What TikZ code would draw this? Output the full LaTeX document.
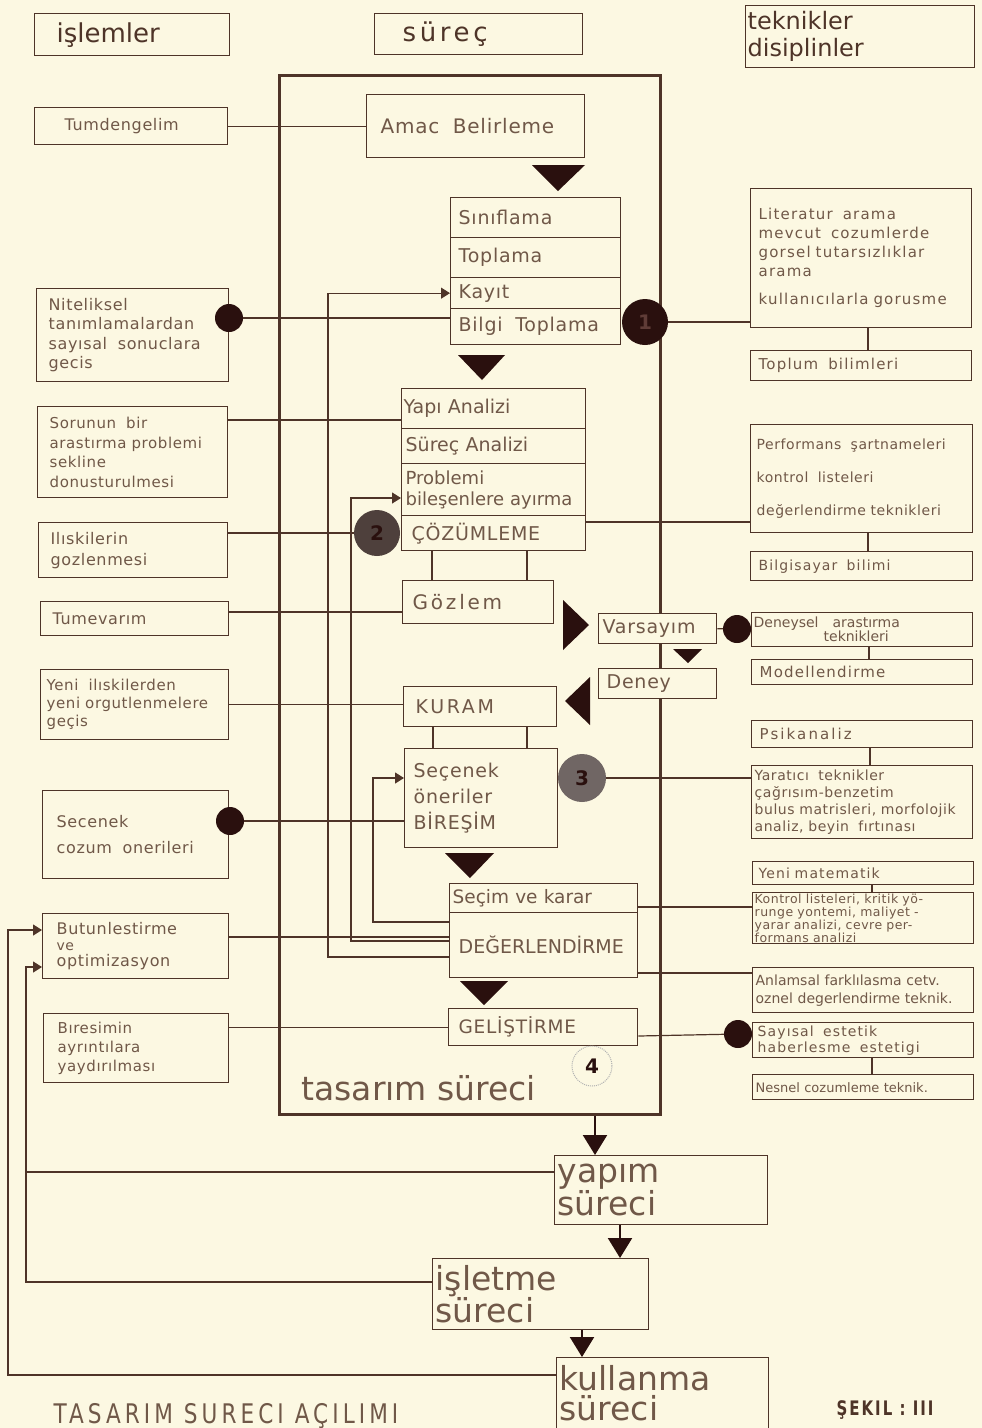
\documentclass[tikz,border=0pt]{standalone}
\usepackage{fontspec}
\setmainfont{DejaVu Sans}
\newfontfamily\fsq[LetterSpace=4]{DejaVu Sans}
\newfontfamily\fsp[LetterSpace=8]{DejaVu Sans}
\newfontfamily\fsw[LetterSpace=14]{DejaVu Sans}
\newfontfamily\fcn[FakeStretch=0.88]{DejaVu Sans}
\newfontfamily\fcap[FakeStretch=0.8,LetterSpace=15]{DejaVu Sans}
\newfontfamily\fsk[FakeStretch=0.75,LetterSpace=10]{DejaVu Sans}
\usetikzlibrary{arrows.meta}
\definecolor{bgc}{RGB}{252,248,226}
\definecolor{lc}{RGB}{78,52,40}
\definecolor{tc}{RGB}{112,88,72}
\definecolor{dk}{RGB}{42,16,14}
\definecolor{d1t}{RGB}{95,60,55}
\definecolor{d2c}{RGB}{78,64,60}
\definecolor{d3c}{RGB}{112,102,100}
\newcommand\myfs[2]{\fontsize{#1}{#2}\selectfont}
\tikzset{
  wh/.code n args={3}{\pgfmathsetmacro\tw{#1-2*#3}%
    \edef\tmp{\noexpand\pgfkeysalso{minimum width=#1pt, minimum height=#2pt, inner xsep=#3pt, text width=\tw pt}}\tmp},
  bx/.style={draw=lc, line width=1.3pt, fill=bgc, text=tc, align=left, inner ysep=1pt, anchor=north west, font=\myfs{16}{20}},
  cn/.style={draw=lc, line width=1.2pt},
  fb/.style={cn, -{Triangle[length=9pt,width=11pt]}},
  flow/.style={draw=dk, line width=2.2pt, -{Triangle[length=20pt,width=24pt]}},
  dot/.style={circle, fill=dk, inner sep=0pt, minimum size=28pt},
  bdot/.style={circle, inner sep=0pt, minimum size=46pt, font=\bfseries\myfs{20}{20}},
}
\begin{document}
\begin{tikzpicture}[x=1pt,y=-1pt]
\path[use as bounding box, fill=bgc] (0,0) rectangle (982,1428);

% big process frame
\node[draw=lc, line width=3pt, anchor=north west, minimum width=381pt, minimum height=1039pt, inner sep=0pt] (tas) at (278,74) {};
\node[anchor=base west, text=tc, font=\myfs{33}{36}] (tasl) at (298,1100) {tasarım süreci};

% headers
\node[bx, wh={195}{42}{22}, text=lc, font=\myfs{26}{30}] (isl) at (34,13) {işlemler};
\node[bx, wh={208}{41}{28}, text=lc, font={\fsw\myfs{26}{30}}] (sur) at (374,13) {süreç};
\node[bx, wh={229}{62}{2}, text=lc, font=\myfs{24}{27}] (tek) at (745,5) {teknikler\\disiplinler};

% middle column
\node[bx, wh={218}{63}{14}, font={\fsq\myfs{20}{24}}] (amac) at (366,94) {Amac\ \ Belirleme};
\node[bx, wh={170}{40}{8}, font={\fsq\myfs{19}{22}}] (sin) at (450,197) {Sınıflama};
\node[bx, wh={170}{40}{8}, font={\fsq\myfs{19}{22}}] (topl) at (450,237) {Toplama};
\node[bx, wh={170}{31}{8}, font={\fsq\myfs{19}{22}}] (kay) at (450,277) {Kayıt};
\node[bx, wh={170}{36}{8}, font={\fsq\myfs{19}{22}}] (bil) at (450,308) {Bilgi\ \ Toplama};

\node[bx, wh={184}{40}{2}, font=\myfs{19}{22}] (yapi) at (401,388) {Yapı Analizi};
\node[bx, wh={184}{35}{4}, font=\myfs{19}{22}] (srca) at (401,428) {Süreç Analizi};
\node[bx, wh={184}{52}{4}, font=\myfs{18}{21}] (prob) at (401,463) {Problemi\\bileşenlere ayırma};
\node[bx, wh={184}{35}{10}, font={\fsq\myfs{19}{22}}] (coz) at (401,515) {ÇÖZÜMLEME};

\node[bx, wh={151}{43}{10}, font={\fsw\myfs{20}{24}}] (goz) at (402,580) {Gözlem};
\node[bx, wh={118}{30}{4}, font={\fsq\myfs{19}{22}}] (vars) at (598,613) {Varsayım};
\node[bx, wh={118}{30}{8}, font={\fsq\myfs{19}{22}}] (den) at (598,668) {Deney};
\node[bx, wh={153}{40}{12}, font={\fsw\myfs{19}{22}}] (kur) at (403,686) {KURAM};
\node[bx, wh={153}{99}{9}, font={\fsq\myfs{19}{26}}] (bir) at (404,748) {Seçenek\\öneriler\\BİREŞİM};
\node[bx, wh={188}{29}{3}, font=\myfs{18.5}{21}] (sec) at (449,883) {Seçim ve karar};
\node[bx, wh={188}{65}{9}, font=\myfs{19}{22}] (deg) at (449,912) {DEĞERLENDİRME};
\node[bx, wh={189}{37}{10}, font={\fsq\myfs{18.5}{21}}] (gel) at (448,1008) {GELİŞTİRME};

% lower process chain
\node[bx, wh={213}{69}{3}, font=\myfs{33}{30}] (yap) at (554,1155) {yapım\\süreci};
\node[bx, wh={216}{71}{3}, font=\myfs{33}{30}] (isl2) at (432,1258) {işletme\\süreci};
\node[bx, wh={212}{71}{3}, font=\myfs{33}{30}] (kul) at (556,1357) {kullanma\\süreci};

% left column
\node[bx, wh={193}{37}{30}, font={\fsq\myfs{16}{20}}] (tum) at (34,107) {Tumdengelim};
\node[bx, wh={192}{93}{12}, font={\fsq\myfs{16}{19.5}}] (nit) at (36,288) {Niteliksel\\tanımlamalardan\\sayısal\ \ sonuclara\\gecis};
\node[bx, wh={190}{91}{12}, font={\fsq\myfs{15}{19.5}}] (sor) at (37,406) {Sorunun\ \ bir\\arastırma problemi\\sekline\\donusturulmesi};
\node[bx, wh={189}{55}{12}, font={\fsq\myfs{16}{21}}] (ili) at (38,522) {Ilıskilerin\\gozlenmesi};
\node[bx, wh={188}{34}{12}, font={\fsq\myfs{16}{20}}] (tmv) at (40,601) {Tumevarım};
\node[bx, wh={188}{70}{6}, font={\fsq\myfs{15}{18}}] (yeni) at (40,669) {Yeni\ \ ilıskilerden\\yeni orgutlenmelere\\geçis};
\node[bx, wh={186}{88}{14}, font={\fsq\myfs{16}{26}}] (scn) at (42,790) {Secenek\\cozum\ \ onerileri};
\node[bx, wh={186}{65}{14}, font={\fsq\myfs{16}{20}}] (but) at (42,913) {Butunlestirme\\[-4pt]{\myfs{14}{14}ve}\\[-4pt]optimizasyon};
\node[bx, wh={185}{69}{14}, font={\fsq\myfs{15}{19}}] (bire) at (43,1013) {Bıresimin\\ayrıntılara\\yaydırılması};

% right column
\node[bx, wh={221}{139}{8}, font={\fsp\myfs{15}{19}}] (lit) at (750,188) {Literatur\ \ arama\\mevcut\ \ cozumlerde\\gorsel tutarsızlıklar\\arama\\[9pt]kullanıcılarla gorusme};
\node[bx, wh={221}{30}{8}, font={\fsp\myfs{15}{18}}] (topb) at (750,350) {Toplum\ \ bilimleri};
\node[bx, wh={222}{108}{6}, font={\fsq\myfs{14}{33}}] (perf) at (750,424) {Performans\ \ şartnameleri\\kontrol\ \ listeleri\\değerlendirme teknikleri};
\node[bx, wh={222}{29}{8}, font={\fsp\myfs{14}{18}}] (bilg) at (750,551) {Bilgisayar\ \ bilimi};
\node[bx, wh={221}{34}{2}, font=\myfs{14}{14}] (dnys) at (751,612) {Deneysel\ \ \ arastırma\\\hspace*{70pt}teknikleri};
\node[bx, wh={221}{25}{8}, font={\fsp\myfs{15}{18}}] (modl) at (751,659) {Modellendirme};
\node[bx, wh={221}{27}{8}, font={\fsw\myfs{15}{18}}] (psik) at (751,720) {Psikanaliz};
\node[bx, wh={221}{73}{3}, font={\fsq\myfs{14}{17}}] (yar) at (751,765) {Yaratıcı\ \ teknikler\\çağrısım-benzetim\\bulus matrisleri, morfolojik\\analiz,\ beyin\ \ fırtınası};
\node[bx, wh={221}{23}{6}, font={\fsp\myfs{14}{16}}] (ymat) at (752,861) {Yeni matematik};
\node[bx, wh={221}{46}{2}, font={\fsq\myfs{12.5}{11}}] (kont) at (752,892) {Kontrol listeleri, kritik yö-\\runge yontemi, maliyet -\\yarar analizi, cevre per-\\formans analizi};
\node[bx, wh={221}{45}{3}, font=\myfs{14}{18}] (anl) at (752,967) {Anlamsal farklılasma cetv.\\oznel degerlendirme teknik.};
\node[bx, wh={221}{35}{5}, font={\fsp\myfs{14}{16}}] (suy) at (752,1022) {Sayısal\ \ estetik\\haberlesme\ \ estetigi};
\node[bx, wh={221}{25}{3}, font=\myfs{13}{16}] (nes) at (752,1074) {Nesnel cozumleme teknik.};

% captions
\node[anchor=base west, text=tc, font={\fcap\myfs{27}{30}}] (cap) at (50,1423) {TASARIM SURECI AÇILIMI};
\node[anchor=base west, text=lc, font={\fsk\bfseries\myfs{20}{22}}] (sek) at (833,1415) {ŞEKIL : III};

% dots
\node[dot] (dA) at (229,318) {};
\node[dot] (dS) at (230,821) {};
\node[dot] (dV) at (737,629) {};
\node[dot] (dG) at (738,1034) {};
\node[bdot, fill=dk, text=d1t] (d1) at (645,322) {1};
\node[bdot, fill=d2c, text=dk] (d2) at (377,533) {2};
\node[bdot, fill=d3c, text=dk, minimum size=48pt] (d3) at (582,778) {3};
\node[circle, draw=gray!60, densely dotted, line width=1pt, inner sep=0pt, minimum size=40pt, text=dk, font=\bfseries\myfs{20}{20}] (d4) at (592,1066) {4};

% left connectors
\draw[cn] (tum.east) -- (tum.east -| amac.west);
\draw[cn] (dA) -- (dA -| bil.west);
\draw[cn] (sor.east |- 0,420) -- (yapi.west |- 0,420);
\draw[cn] (ili.east |- d2) -- (d2);
\draw[cn] (tmv.east |- 0,612) -- (goz.west |- 0,612);
\draw[cn] (yeni.east) -- (yeni.east -| kur.west);
\draw[cn] (dS) -- (dS -| bir.west);
\draw[cn] (but.east |- 0,937) -- (deg.west |- 0,937);
\draw[cn] (gel.west) -- (gel.west -| bire.east);

% feedback loops inside the frame
\draw[fb] (deg.west |- 0,957) -- (328,957) |- (kay.west);
\draw[fb] (deg.west |- 0,941) -- (351,941) |- (prob.west |- 0,498);
\draw[fb] (deg.west |- 0,922) -- (373,922) |- (bir.west |- 0,778);

% vertical links between stages
\draw[cn] (coz.south -| 432,0) -- (goz.north -| 432,0);
\draw[cn] (coz.south -| 527,0) -- (goz.north -| 527,0);
\draw[cn] (kur.south -| 433,0) -- (bir.north -| 433,0);
\draw[cn] (kur.south -| 527,0) -- (bir.north -| 527,0);

% right connectors
\draw[cn] (d1) -- (d1 -| lit.west);
\draw[cn] (coz.east |- 0,522) -- (perf.west |- 0,522);
\draw[cn] (lit.south -| 868,0) -- (topb.north -| 868,0);
\draw[cn] (perf.south -| 868,0) -- (bilg.north -| 868,0);
\draw[cn] (dnys.south -| 869,0) -- (modl.north -| 869,0);
\draw[cn] (psik.south -| 870,0) -- (yar.north -| 870,0);
\draw[cn] (ymat.south -| 872,0) -- (kont.north -| 872,0);
\draw[cn] (suy.south -| 872,0) -- (nes.north -| 872,0);
\draw[cn] (vars.east) -- (dV);
\draw[cn] (d3) -- (d3 -| yar.west);
\draw[cn] (sec.east |- 0,907) -- (kont.west |- 0,907);
\draw[cn] (deg.east |- 0,973) -- (anl.west |- 0,973);
\draw[cn] (gel.east |- 0,1036) -- (dG);

% outer feedback to Butunlestirme
\coordinate (j1) at (26,1172);
\draw[fb] (kul.west |- 0,1375) -- (8,1375) |- (but.west |- 0,930);
\draw[fb] (isl2.west |- 0,1282) -- (26,1282) |- (but.west |- 0,967);
\draw[cn] (yap.west |- j1) -- (j1);

% flow arrows
\draw[flow] (tas.south -| 595,0) -- (yap.north -| 595,0);
\draw[flow] (yap.south -| 620,0) -- (isl2.north -| 620,0);
\draw[flow] (isl2.south -| 582,0) -- (kul.north -| 582,0);

% block arrowheads
\fill[dk] (532,165) -- (585,165) -- (558,191) -- cycle;
\fill[dk] (458,355) -- (505,355) -- (482,380) -- cycle;
\fill[dk] (563,600) -- (563,650) -- (589,625) -- cycle;
\fill[dk] (673,649) -- (702,649) -- (688,663) -- cycle;
\fill[dk] (590,677) -- (590,725) -- (565,701) -- cycle;
\fill[dk] (445,853) -- (494,853) -- (470,878) -- cycle;
\fill[dk] (460,981) -- (508,981) -- (484,1005) -- cycle;
\end{tikzpicture}
\end{document}
